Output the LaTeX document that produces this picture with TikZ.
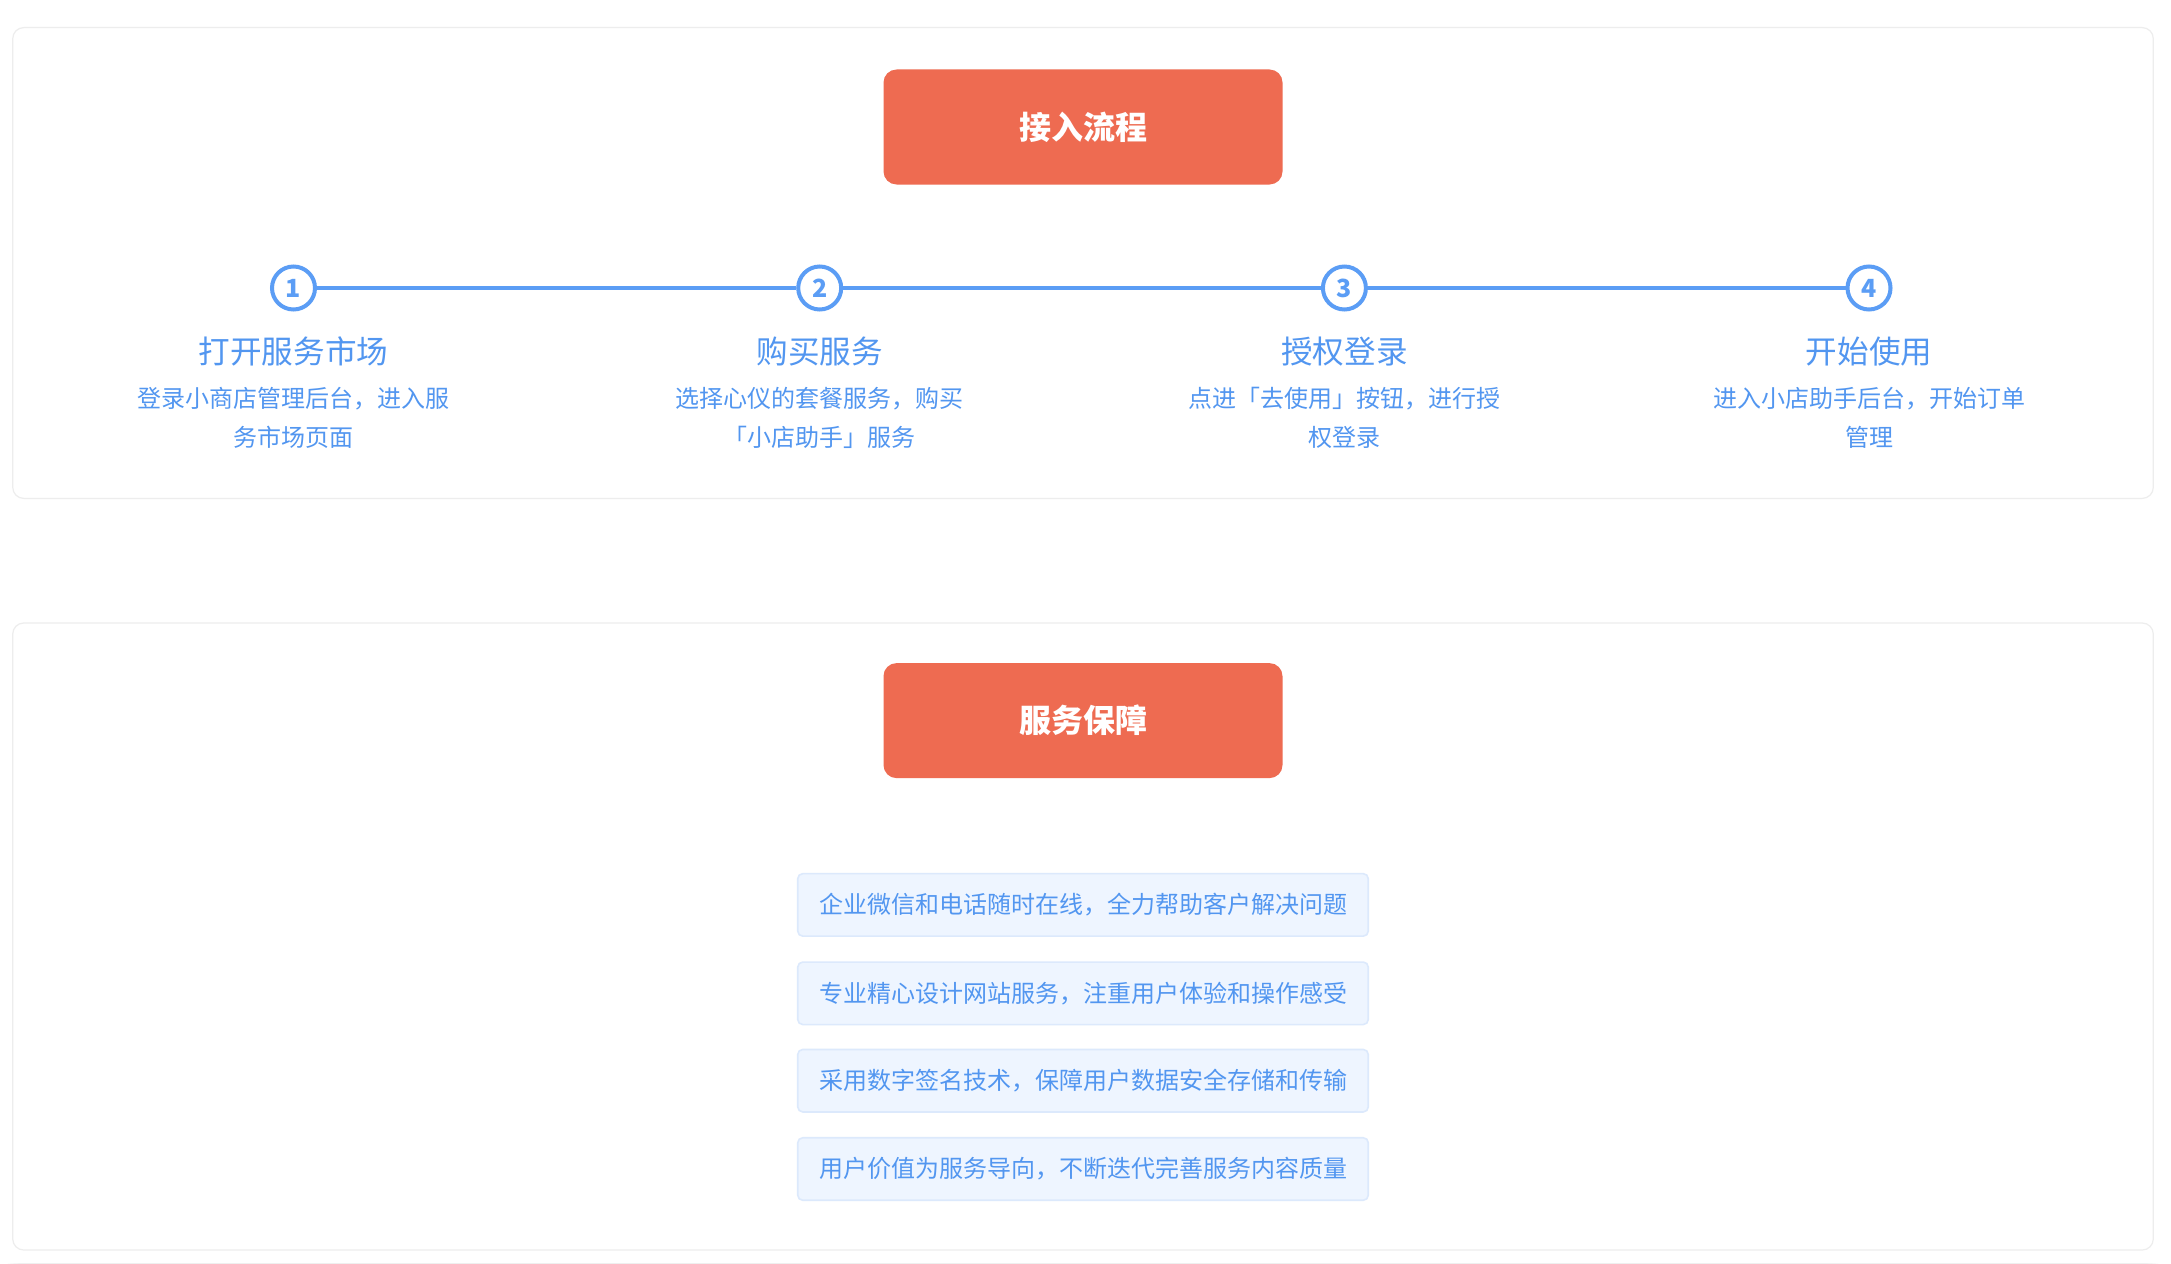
\documentclass[tikz,border=0pt]{standalone}
\usepackage{fontspec}
\setmainfont{Noto Sans CJK SC}
\definecolor{btnred}{HTML}{EE6B51}
\definecolor{flowblue}{HTML}{5B9DF5}
\definecolor{txtblue}{HTML}{5296F0}
\definecolor{itemfill}{HTML}{EEF5FF}
\definecolor{itemline}{HTML}{DCE9FC}
\definecolor{panelline}{HTML}{EDEDED}
\pgfdeclarelayer{shadowlayer}
\pgfsetlayers{shadowlayer,main}
\tikzset{
  panel/.style={draw=panelline, line width=0.6pt, fill=white, rounded corners=5.5pt,
    minimum width=1070.25pt, inner sep=0pt},
  shadowstep/.style={fill=black, fill opacity=0.014, draw=none},
  headbtn/.style={fill=btnred, rounded corners=6.5pt, minimum width=199.5pt, minimum height=57.5pt,
    inner sep=0pt, text=white, font=\fontsize{16}{19}\selectfont\bfseries},
  stepdot/.style={circle, draw=flowblue, line width=2pt, fill=white, minimum size=21.5pt, inner sep=0pt,
    text=flowblue, font=\fontsize{12.5}{14}\selectfont\bfseries},
  steptitle/.style={text=txtblue, font=\fontsize{15.8}{18}\selectfont, inner sep=0pt},
  stepdesc/.style={text=txtblue, font=\fontsize{12}{19.4}\selectfont, align=center, inner sep=0pt},
  linkline/.style={draw=flowblue, line width=2pt},
  itembox/.style={fill=itemfill, draw=itemline, line width=0.8pt, rounded corners=2.5pt,
    minimum width=285.25pt, minimum height=31.25pt, inner sep=0pt, text=txtblue,
    font=\fontsize{12}{14}\selectfont}
}
\begin{document}
\begin{tikzpicture}[x=0.5pt, y=-0.5pt]
\useasboundingbox[fill=white] (0,0) rectangle (2171,1263);
% panels
\node[panel, minimum height=235.4pt] (p1) at (1083,263) {};
\node[panel, minimum height=313.5pt] (p2) at (1083,936.5) {};
\begin{pgfonlayer}{shadowlayer}
\foreach \p in {p1,p2}{
  \foreach \k in {1,...,10}{
    \fill[shadowstep, rounded corners=5.5pt+0.75pt*\k]
      ([shift={(-1.5*\k,-1.5*\k+3)}]\p.north west) rectangle ([shift={(1.5*\k,1.5*\k+3)}]\p.south east);
  }
}
\end{pgfonlayer}
% section headers
\node[headbtn] (h1) at (1083,127) {接入流程};
\node[headbtn] (h2) at (1083,720.6) {服务保障};
% steps
\node[stepdot] (s1) at (293.5,288) {1};
\node[stepdot] (s2) at (819.7,288) {2};
\node[stepdot] (s3) at (1344.4,288) {3};
\node[stepdot] (s4) at (1869,288) {4};
\draw[linkline] (s1) -- (s2);
\draw[linkline] (s2) -- (s3);
\draw[linkline] (s3) -- (s4);
\node[steptitle] (t1) at (293.5,351.7) {打开服务市场};
\node[steptitle] (t2) at (819.7,351.7) {购买服务};
\node[steptitle] (t3) at (1344.4,351.7) {授权登录};
\node[steptitle] (t4) at (1869,351.7) {开始使用};
\node[stepdesc] (d1) at (293.5,418) {登录小商店管理后台，进入服\\务市场页面};
\node[stepdesc] (d2) at (819.7,418) {选择心仪的套餐服务，购买\\「小店助手」服务};
\node[stepdesc] (d3) at (1344.4,418) {点进「去使用」按钮，进行授\\权登录};
\node[stepdesc] (d4) at (1869,418) {进入小店助手后台，开始订单\\管理};
% guarantees
\node[itembox] (g1) at (1083,904.9) {企业微信和电话随时在线，全力帮助客户解决问题};
\node[itembox] (g2) at (1083,993.3) {专业精心设计网站服务，注重用户体验和操作感受};
\node[itembox] (g3) at (1083,1080.7) {采用数字签名技术，保障用户数据安全存储和传输};
\node[itembox] (g4) at (1083,1169) {用户价值为服务导向，不断迭代完善服务内容质量};
\end{tikzpicture}
\end{document}
